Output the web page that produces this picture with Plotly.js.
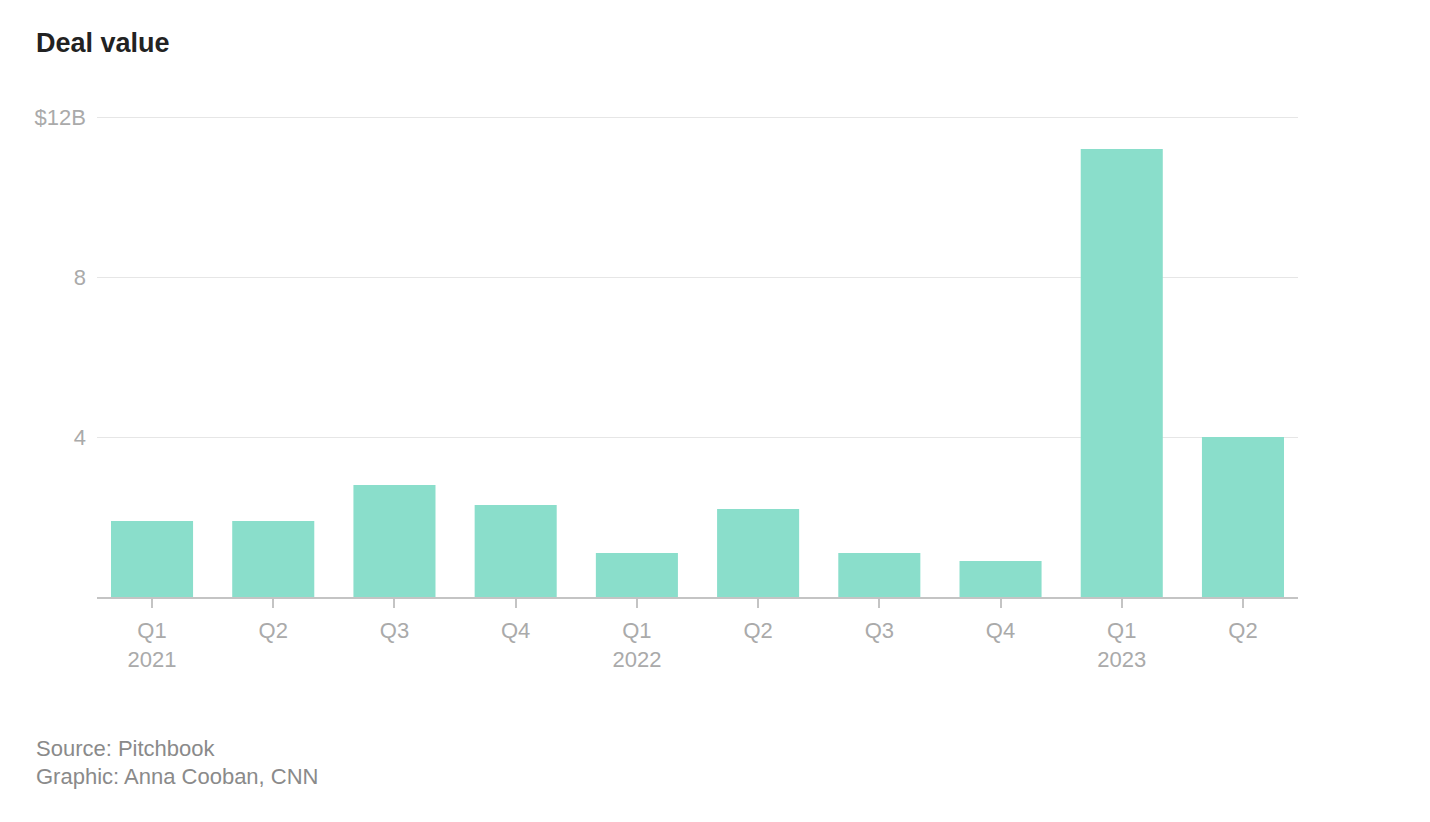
<!DOCTYPE html>
<html>
<head>
<meta charset="utf-8">
<script src="https://cdn.plot.ly/plotly-3.0.1.min.js"></script>
<style>
html,body{margin:0;padding:0;background:#fff;}
#chart{width:1430px;height:822px;}
</style>
</head>
<body>
<div id="chart"></div>
<script>
const quarters = ["2021 Q1","2021 Q2","2021 Q3","2021 Q4","2022 Q1","2022 Q2","2022 Q3","2022 Q4","2023 Q1","2023 Q2"];
const tickLabels = ["Q1<br>2021","Q2","Q3","Q4","Q1<br>2022","Q2","Q3","Q4","Q1<br>2023","Q2"];
const dealValue = [1.9, 1.9, 2.8, 2.3, 1.1, 2.2, 1.1, 0.9, 11.2, 4.0];
const yTickVals = [0, 4, 8, 12];
const yTickText = ["", "4", "8", "$12B"];

const font = "Liberation Sans, Arial, sans-serif";
const L = 97, T = 113, B = 225, PW = 1201, PH = 822 - T - B;

const data = [{
  type: "bar",
  x: quarters,
  y: dealValue,
  marker: {color: "#8ADECB", line: {width: 0}},
  hoverinfo: "x+y"
}];

const layout = {
  width: 1430, height: 822,
  margin: {l: L, r: 132, t: T, b: B},
  paper_bgcolor: "#fff", plot_bgcolor: "#fff",
  bargap: 0.323,
  showlegend: false,
  font: {family: font, color: "#aaaaaa", size: 22},
  xaxis: {
    type: "category",
    range: [-0.454, 9.454],
    tickmode: "array",
    tickvals: quarters,
    ticktext: tickLabels,
    ticks: "outside", ticklen: 9, tickwidth: 2, tickcolor: "#c4c4c4",
    showline: true, linecolor: "#c4c4c4", linewidth: 2,
    showgrid: false, zeroline: false,
    ticklabelstandoff: 4,
    tickfont: {family: font, size: 22, color: "#aaaaaa"},
    fixedrange: true
  },
  yaxis: {
    range: [0, 12.1],
    tickmode: "array",
    tickvals: yTickVals,
    ticktext: yTickText,
    showgrid: true, gridcolor: "#e6e6e6", gridwidth: 1,
    zeroline: false, showline: false, ticks: "",
    ticklabelstandoff: 10,
    tickfont: {family: font, size: 22, color: "#aaaaaa"},
    fixedrange: true
  },
  annotations: [
    {text: "<b>Deal value</b>", xref: "paper", yref: "paper", x: (34 - L) / PW, y: 1 + 70 / PH,
     xanchor: "left", yanchor: "middle", showarrow: false, align: "left",
     font: {family: font, size: 27, color: "#222222"}},
    {text: "Source: Pitchbook", xref: "paper", yref: "paper", x: (34 - L) / PW, y: -151 / PH,
     xanchor: "left", yanchor: "middle", showarrow: false, align: "left",
     font: {family: font, size: 22, color: "#8a8a8a"}},
    {text: "Graphic: Anna Cooban, CNN", xref: "paper", yref: "paper", x: (34 - L) / PW, y: -180 / PH,
     xanchor: "left", yanchor: "middle", showarrow: false, align: "left",
     font: {family: font, size: 22, color: "#8a8a8a"}}
  ]
};

Plotly.newPlot("chart", data, layout, {displayModeBar: false, staticPlot: true});
</script>
</body>
</html>
